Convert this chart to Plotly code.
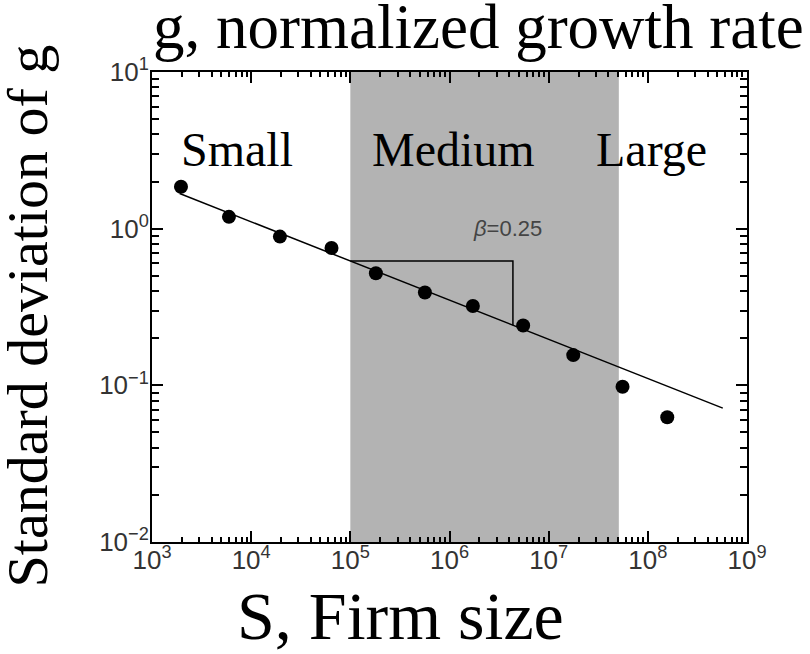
import numpy as np
import plotly.graph_objects as go

# ---- data ----
firm_size = [1.96e3, 5.97e3, 1.95e4, 6.46e4, 1.81e5, 5.65e5, 1.72e6, 5.53e6, 1.77e7, 5.56e7, 1.57e8]
std_g = [1.85, 1.19, 0.89, 0.753, 0.519, 0.391, 0.321, 0.241, 0.156, 0.098, 0.0625]

fit_beta = 0.25
fit_ref_size = 1e5
fit_ref_sigma = 0.622
fit_size_range = [1.9e3, 5.7e8]
triangle_sizes = [1e5, 4.36e6]

medium_band = [1e5, 5.1e7]
y_span = [1e-2, 1e1]

x_tick_vals = [1e3, 1e4, 1e5, 1e6, 1e7, 1e8, 1e9]
x_tick_text = ["10<sup>3</sup>", "10<sup>4</sup>", "10<sup>5</sup>", "10<sup>6</sup>",
               "10<sup>7</sup>", "10<sup>8</sup>", "10<sup>9</sup>"]
y_tick_vals = [1e-2, 1e-1, 1e0, 1e1]
y_tick_text = ["10<sup>−2</sup>", "10<sup>−1</sup>", "10<sup>0</sup>", "10<sup>1</sup>"]

region_labels = ["Small", "Medium", "Large"]


def fit(s):
    return fit_ref_sigma * (np.asarray(s, dtype=float) / fit_ref_size) ** (-fit_beta)


x_minor = [m * 10 ** k for k in range(3, 9) for m in range(2, 10)]
y_minor = [m * 10 ** k for k in range(-2, 1) for m in range(2, 10)]

fig = go.Figure()

# shaded medium band
fig.add_trace(go.Scatter(
    x=[medium_band[0], medium_band[1], medium_band[1], medium_band[0], medium_band[0]],
    y=[y_span[0], y_span[0], y_span[1], y_span[1], y_span[0]],
    mode="lines", fill="toself", fillcolor="#b3b3b3",
    line=dict(width=0, color="#b3b3b3"), hoverinfo="skip", showlegend=False))

# fit line
fit_x = np.array(fit_size_range)
fig.add_trace(go.Scatter(x=fit_x, y=fit(fit_x), mode="lines",
                         line=dict(color="black", width=1.5), showlegend=False))

# slope triangle
tx = [triangle_sizes[0], triangle_sizes[1], triangle_sizes[1]]
ty = [fit(triangle_sizes[0]), fit(triangle_sizes[0]), fit(triangle_sizes[1])]
fig.add_trace(go.Scatter(x=tx, y=ty, mode="lines",
                         line=dict(color="black", width=1.5), showlegend=False))

# data points
fig.add_trace(go.Scatter(x=firm_size, y=std_g, mode="markers",
                         marker=dict(color="black", size=14), showlegend=False))

axis_common = dict(
    type="log", showgrid=False, zeroline=False, automargin=False,
    showline=True, linecolor="black", linewidth=2, mirror="allticks",
    ticks="inside", ticklen=11, tickwidth=1.5, tickcolor="black",
    tickfont=dict(family="Liberation Sans, Arial, sans-serif", size=26, color="#333333"),
    tickmode="array",
)

fig.update_xaxes(**axis_common, range=[3, 9], tickvals=x_tick_vals, ticktext=x_tick_text,
                 ticklabelstandoff=-6,
                 minor=dict(tickvals=x_minor, ticks="inside", ticklen=5, tickwidth=1.5, tickcolor="black"))
fig.update_yaxes(**axis_common, range=[-2, 1], tickvals=y_tick_vals, ticktext=y_tick_text,
                 ticklabelstandoff=-4,
                 minor=dict(tickvals=y_minor, ticks="inside", ticklen=7, tickwidth=1.5, tickcolor="black"))

serif = "Liberation Serif, Times New Roman, serif"
ann = []
ann.append(dict(text="g, normalized growth rate", xref="paper", yref="paper", x=0.548, y=1.095,
                xanchor="center", yanchor="middle", showarrow=False,
                font=dict(family=serif, size=63, color="black")))
ann.append(dict(text="S, Firm size", xref="paper", yref="paper", x=0.417, y=-0.158,
                xanchor="center", yanchor="middle", showarrow=False,
                font=dict(family=serif, size=68, color="black")))
ann.append(dict(text="Standard deviation of g", xref="paper", yref="paper", x=-0.210, y=0.480,
                xanchor="center", yanchor="middle", textangle=-90, showarrow=False,
                font=dict(family=serif, size=58, color="black")))
for lbl, px in zip(region_labels, [0.0454, 0.366, 0.743]):
    ann.append(dict(text=lbl, xref="paper", yref="paper", x=px, y=0.835,
                    xanchor="left", yanchor="middle", showarrow=False,
                    font=dict(family=serif, size=48, color="black")))
ann.append(dict(text="<i>β</i>=0.25", xref="paper", yref="paper", x=0.598, y=0.668,
                xanchor="center", yanchor="middle", showarrow=False,
                font=dict(family="Liberation Sans, Arial, sans-serif", size=22, color="#444444")))

fig.update_layout(
    width=810, height=654, autosize=False,
    margin=dict(l=152, r=63, t=72, b=112, autoexpand=False),
    plot_bgcolor="white", paper_bgcolor="white",
    annotations=ann, showlegend=False,
)

fig.write_html("out.html", config={"displayModeBar": False},
               post_script="document.body.style.margin='0';")
